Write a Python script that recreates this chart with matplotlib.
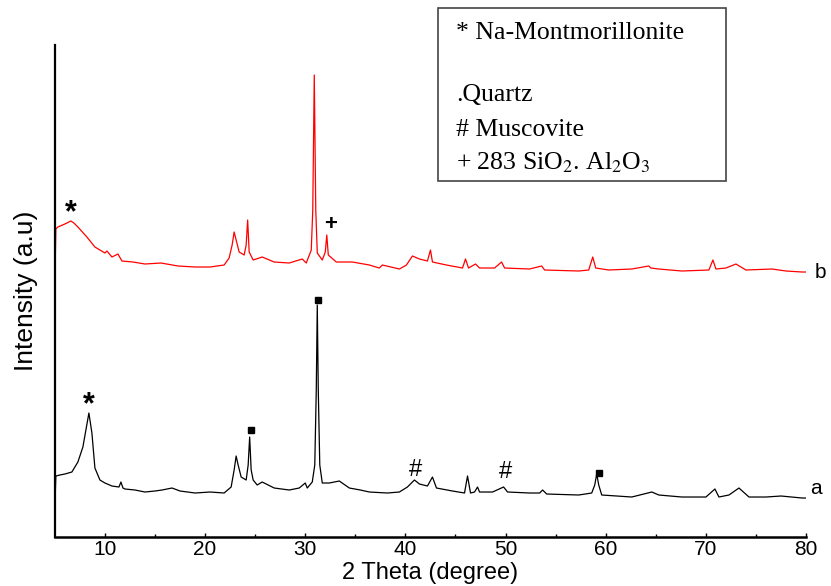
import matplotlib
matplotlib.use("Agg")
import matplotlib.pyplot as plt
from matplotlib.patches import Rectangle

# --- traced XRD patterns (2 theta, intensity in arbitrary units) ---
two_theta_a = [5.0, 5.1, 5.5, 6.0, 6.7, 7.3, 7.8, 8.1, 8.4, 8.7, 9.0, 9.5, 10.0, 10.7,
               11.4, 11.6, 11.8, 12.0, 13.0, 14.0, 15.0, 15.7, 16.2, 16.7, 17.5, 19.0,
               20.5, 21.9, 22.6, 22.9, 23.1, 23.3, 23.6, 24.1, 24.3, 24.45, 24.6, 24.8,
               25.2, 25.7, 26.1, 26.9, 28.4, 29.4, 30.0, 30.2, 30.7, 30.95, 31.1, 31.2,
               31.3, 31.45, 31.7, 32.4, 33.4, 34.4, 35.5, 36.4, 38.2, 39.4, 40.2, 40.9,
               41.4, 42.2, 42.7, 43.1, 44.7, 45.9, 46.2, 46.5, 46.9, 47.2, 47.4, 48.7,
               49.8, 50.2, 52.4, 53.4, 53.7, 54.1, 57.3, 58.6, 58.9, 59.1, 59.3, 59.6,
               62.6, 63.8, 64.6, 65.3, 67.6, 70.0, 70.9, 71.3, 72.3, 73.3, 74.3, 76.0,
               77.5, 79.6, 80.0]
intensity_a = [2, 34, 35, 36, 38, 48, 63, 80, 97, 77, 42, 30, 27, 24,
               23, 28, 22, 21, 20, 18, 19, 20, 21, 22, 19, 17,
               18, 17, 23, 40, 54, 45, 33, 30, 45, 73, 40, 30,
               25, 28, 26, 22, 20, 22, 27, 22, 28, 45, 120, 205,
               120, 45, 27, 27, 29, 22, 20, 18, 17, 18, 23, 30,
               26, 24, 33, 22, 19, 17, 34, 17, 18, 23, 18, 18,
               23, 18, 17, 17, 20, 16, 15, 17, 25, 36, 25, 15,
               13, 16, 18, 15, 13, 13, 21, 13, 15, 22, 13, 13,
               14, 12, 12]

two_theta_b = [5.0, 5.1, 5.3, 6.0, 6.6, 6.9, 7.3, 8.2, 9.0, 10.0, 10.2, 10.7, 11.3,
               11.7, 12.8, 14.0, 15.6, 17.3, 19.0, 20.5, 21.9, 22.4, 22.7, 22.9, 23.1,
               23.4, 23.9, 24.1, 24.25, 24.4, 24.8, 25.7, 26.9, 28.4, 29.7, 30.1, 30.6,
               30.75, 30.9, 31.05, 31.2, 31.7, 32.0, 32.15, 32.3, 33.1, 34.7, 36.4, 37.4,
               37.7, 39.4, 40.1, 40.7, 41.4, 42.2, 42.5, 42.7, 44.1, 45.7, 46.0, 46.3,
               47.0, 47.4, 48.9, 49.6, 49.9, 52.4, 53.6, 53.9, 57.3, 58.3, 58.7, 59.0,
               60.3, 62.6, 64.3, 64.5, 65.3, 67.6, 70.3, 70.7, 71.0, 72.0, 73.0, 74.0,
               76.6, 78.0, 79.6, 80.0]
intensity_b = [227, 281, 283, 286, 289, 287, 283, 273, 263, 257, 259, 253, 256,
               249, 248, 246, 247, 244, 243, 243, 245, 252, 265, 278, 270,
               258, 255, 265, 290, 258, 250, 253, 248, 247, 251, 247, 260,
               300, 435, 300, 257, 250, 258, 275, 255, 248, 248, 245, 242,
               245, 241, 245, 254, 251, 249, 260, 248, 245, 242, 251, 242,
               246, 242, 242, 248, 242, 241, 244, 240, 239, 240, 253, 242,
               240, 241, 244, 242, 241, 239, 240, 250, 241, 242, 246, 240,
               241, 239, 238, 238]

# phase markers
star_pos = [(8.4, 105), (6.6, 297)]
quartz_pos = [(24.6, 80), (31.3, 210), (59.3, 37)]
musc_pos = [(41.0, 40), (50.0, 38)]
plus_pos = [(32.5, 286)]

fig = plt.figure(figsize=(8.31, 5.86), dpi=100)
ax = fig.add_axes([0.066, 0.0836, 0.904, 0.8396])

ax.plot(two_theta_a, intensity_a, color='black', lw=0.9)
ax.plot(two_theta_b, intensity_b, color='red', lw=0.9)

for x, y in star_pos:
    ax.text(x, y, '*', fontsize=22, fontweight='bold', ha='center', va='center',
            family='Liberation Sans')
for x, y in musc_pos:
    ax.text(x, y, '#', fontsize=17, ha='center', va='center', family='Liberation Sans')
for x, y in plus_pos:
    ax.text(x, y, '+', fontsize=16, fontweight='bold', ha='center', va='center',
            family='Liberation Sans')
ax.plot([p[0] for p in quartz_pos], [p[1] for p in quartz_pos], 's',
        color='black', ms=4, ls='none')

ax.text(80.4, 22, 'a', fontsize=15, ha='left', va='center', clip_on=False,
        family='Liberation Sans')
ax.text(80.9, 238, 'b', fontsize=15, ha='left', va='center', clip_on=False,
        family='Liberation Sans')

ax.set_xlim(5, 80)
ax.set_ylim(-27, 465)
ax.set_xticks([10, 20, 30, 40, 50, 60, 70, 80])
ax.set_xticks([15, 25, 35, 45, 55, 65, 75], minor=True)
ax.set_yticks([])
ax.tick_params(axis='x', direction='in', length=3, width=1, labelsize=15, pad=2)
ax.tick_params(axis='x', which='minor', direction='in', length=2, width=1)
for lab in ax.get_xticklabels():
    lab.set_family('Liberation Sans')
ax.spines['top'].set_visible(False)
ax.spines['right'].set_visible(False)
ax.spines['left'].set_linewidth(1.6)
ax.spines['bottom'].set_linewidth(1.8)

ax.set_xlabel('2 Theta (degree)', fontsize=17, family='Liberation Sans', labelpad=2)
ax.set_ylabel('Intensity (a.u)', fontsize=19, family='Liberation Sans', labelpad=12)

# legend box (figure coordinates)
plt.rcParams['mathtext.fontset'] = 'stix'
fig.patches.append(Rectangle((0.527, 0.691), 0.347, 0.295, transform=fig.transFigure,
                             fill=False, edgecolor='#444444', lw=1.2))
legend_lines = ['* Na-Montmorillonite', '.Quartz', '# Muscovite',
                r'+ 283 SiO$_2$. Al$_2$O$_3$']
legend_y = [0.944, 0.838, 0.778, 0.722]
for txt, yy in zip(legend_lines, legend_y):
    fig.text(0.549, yy, txt, fontsize=18.5, family='Liberation Serif', va='center')

fig.savefig('out.png', dpi=100)
